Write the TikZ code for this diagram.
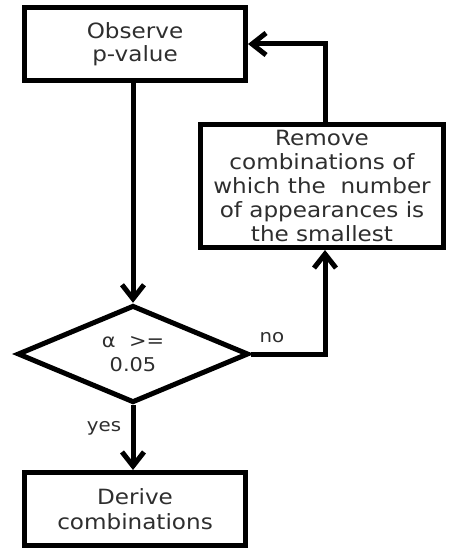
\documentclass[tikz,border=0pt]{standalone}
\usepackage{fontspec}
\setmainfont[FakeStretch=1.1]{DejaVu Sans}
\usetikzlibrary{shapes.geometric,arrows.meta}
\definecolor{txt}{HTML}{2E2E2E}
\tikzset{
  x=1pt,y=1pt,
  flowline/.style={line width=5pt,black},
  arr/.style={flowline,-{Straight Barb[length=14pt,width=22pt,line width=5pt]}},
  procbox/.style={draw,line width=5pt,rectangle,align=center,text=txt,font=\fontsize{21}{23}\selectfont,inner sep=0pt},
  decbox/.style={draw,line width=5pt,diamond,align=center,text=txt,font=\fontsize{19}{24}\selectfont,inner sep=0pt},
  lbl/.style={text=txt,font=\fontsize{18}{18}\selectfont,inner sep=0pt}
}
\begin{document}
\begin{tikzpicture}
\useasboundingbox (0,0) rectangle (448,-551);
\node[procbox,minimum width=221pt,minimum height=73pt] (obs) at (135,-44) {Observe\\p-value};
\node[decbox,minimum width=231pt,minimum height=97pt] (dec) at (133,-354) {α\ \ >=\\0.05};
\node[procbox,minimum width=221pt,minimum height=73pt,font=\fontsize{21}{25}\selectfont] (der) at (135,-509) {Derive\\combinations};
\node[procbox,minimum width=243pt,minimum height=123pt,font=\fontsize{21}{24}\selectfont] (rem) at (322,-186) {Remove\\combinations of\\which the\ \ number\\of appearances is\\the smallest};
\coordinate (top) at (325,-44);
\coordinate (corner) at (325,-354);
\draw[arr] (obs.south -| dec.north) -- (dec.north);
\draw[arr] (dec.south) -- (der.north -| dec.south);
\draw[arr] (dec.east) -- (corner) -- (rem.south -| corner);
\draw[arr] (rem.north -| top) -- (top) -- (obs.east);
\node[lbl] (no) at (272,-338) {no};
\node[lbl] (yes) at (104,-428) {yes};
\end{tikzpicture}
\end{document}
